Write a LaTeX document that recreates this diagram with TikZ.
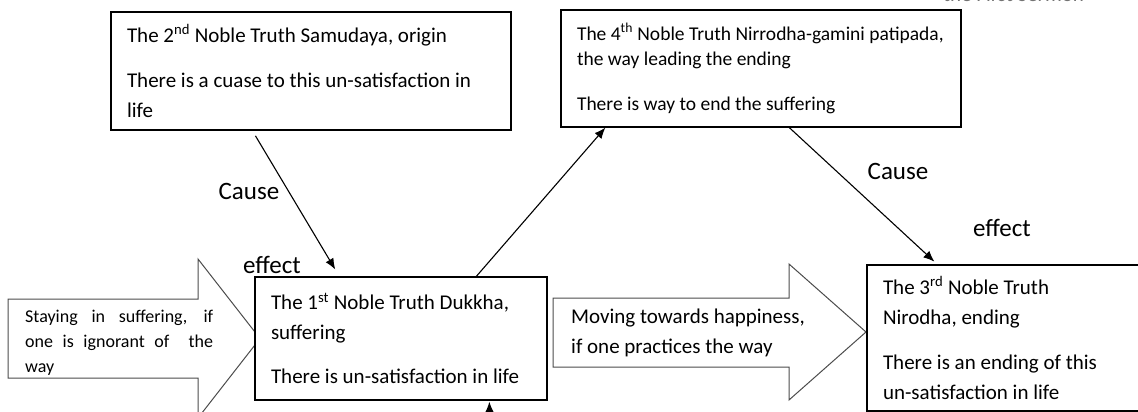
\documentclass[tikz,border=0pt]{standalone}
\usepackage{fontspec}
\setmainfont{Carlito}
\usetikzlibrary{arrows.meta}

\newcommand{\boxfont}{\fontsize{21}{30}\selectfont}
\newcommand{\tightfont}{\fontsize{19.5}{25}\selectfont}
\newcommand{\smallfont}{\fontsize{18}{25}\selectfont}
\newcommand{\labelfont}{\fontsize{25}{30}\selectfont}

\tikzset{
  truth/.style={draw, line width=1.3pt, fill=white, align=flush left,
    inner xsep=16pt, inner ysep=0pt, font=\boxfont},
  flowshape/.style={draw=black!70, line width=1pt, fill=white},
  flowtext/.style={inner sep=0pt, align=left},
  relation/.style={font=\labelfont, inner sep=0pt},
  link/.style={->, line width=1.1pt},
}

\begin{document}
\begin{tikzpicture}[x=1pt,y=-1pt,>={Latex[length=11pt,width=9pt]}]
\useasboundingbox (0,0) rectangle (1138,412);

% block arrows
\draw[flowshape] (8,299) -- (198,299) -- (198,259) -- (260,338.5)
  -- (198,418) -- (198,378) -- (8,378) -- cycle;
\draw[flowshape] (553,298) -- (789,298) -- (789,264) -- (866,332)
  -- (789,400) -- (789,367) -- (553,367) -- cycle;
\node[flowtext, font=\smallfont, anchor=west] (stay) at (25,343)
  {\makebox[188pt][s]{Staying in suffering, if}\\
   \makebox[188pt][s]{one is ignorant of \ the}\\ way};
\node[flowtext, font=\boxfont, anchor=west] (move) at (571,333)
  {Moving towards happiness,\\ if one practices the way};

% the four truths
\node[truth, minimum width=400pt, minimum height=118pt, text width=368pt]
  (samudaya) at (311,71)
  {The 2\textsuperscript{nd} Noble Truth Samudaya, origin\\[15pt]
   There is a cuase to this un-satisfaction in\\ life};
\node[truth, minimum width=400pt, minimum height=117pt, text width=368pt,
  font=\tightfont] (patipada) at (761,68.5)
  {The 4\textsuperscript{th} Noble Truth Nirrodha-gamini patipada,\\
   the way leading the ending\\[20pt]
   There is way to end the suffering};
\node[truth, minimum width=292pt, minimum height=123pt, text width=260pt]
  (dukkha) at (401,338.5)
  {The 1\textsuperscript{st} Noble Truth Dukkha,\\ suffering\\[14pt]
   There is un-satisfaction in life};
\node[truth, minimum width=280pt, minimum height=146pt, text width=248pt]
  (nirodha) at (1007,338)
  {The 3\textsuperscript{rd} Noble Truth\\ Nirodha, ending\\[15pt]
   There is an ending of this\\ un-satisfaction in life};

% links
\coordinate (below) at (490,450);
\draw[link, shorten <=6pt, shorten >=8pt] ([xshift=142pt]samudaya.south west)
  -- ([xshift=85pt]dukkha.north west);
\draw[link] ([xshift=222pt]dukkha.north west) -- ([xshift=45pt]patipada.south west);
\draw[link, shorten >=4pt] ([xshift=229pt]patipada.south west)
  -- ([xshift=71pt]nirodha.north west);
\draw[link, shorten >=1pt] (below) -- ([xshift=235pt]dukkha.south west);

% labels
\node[relation] (cause1) at (249,191) {Cause};
\node[relation] (effect1) at (272,265) {effect};
\node[relation] (cause2) at (898,171) {Cause};
\node[relation] (effect2) at (1002,228) {effect};
\node[font=\boxfont, text=black!55, anchor=base west, inner sep=0pt]
  (sermon) at (943,2) {the First Sermon};
\end{tikzpicture}
\end{document}
